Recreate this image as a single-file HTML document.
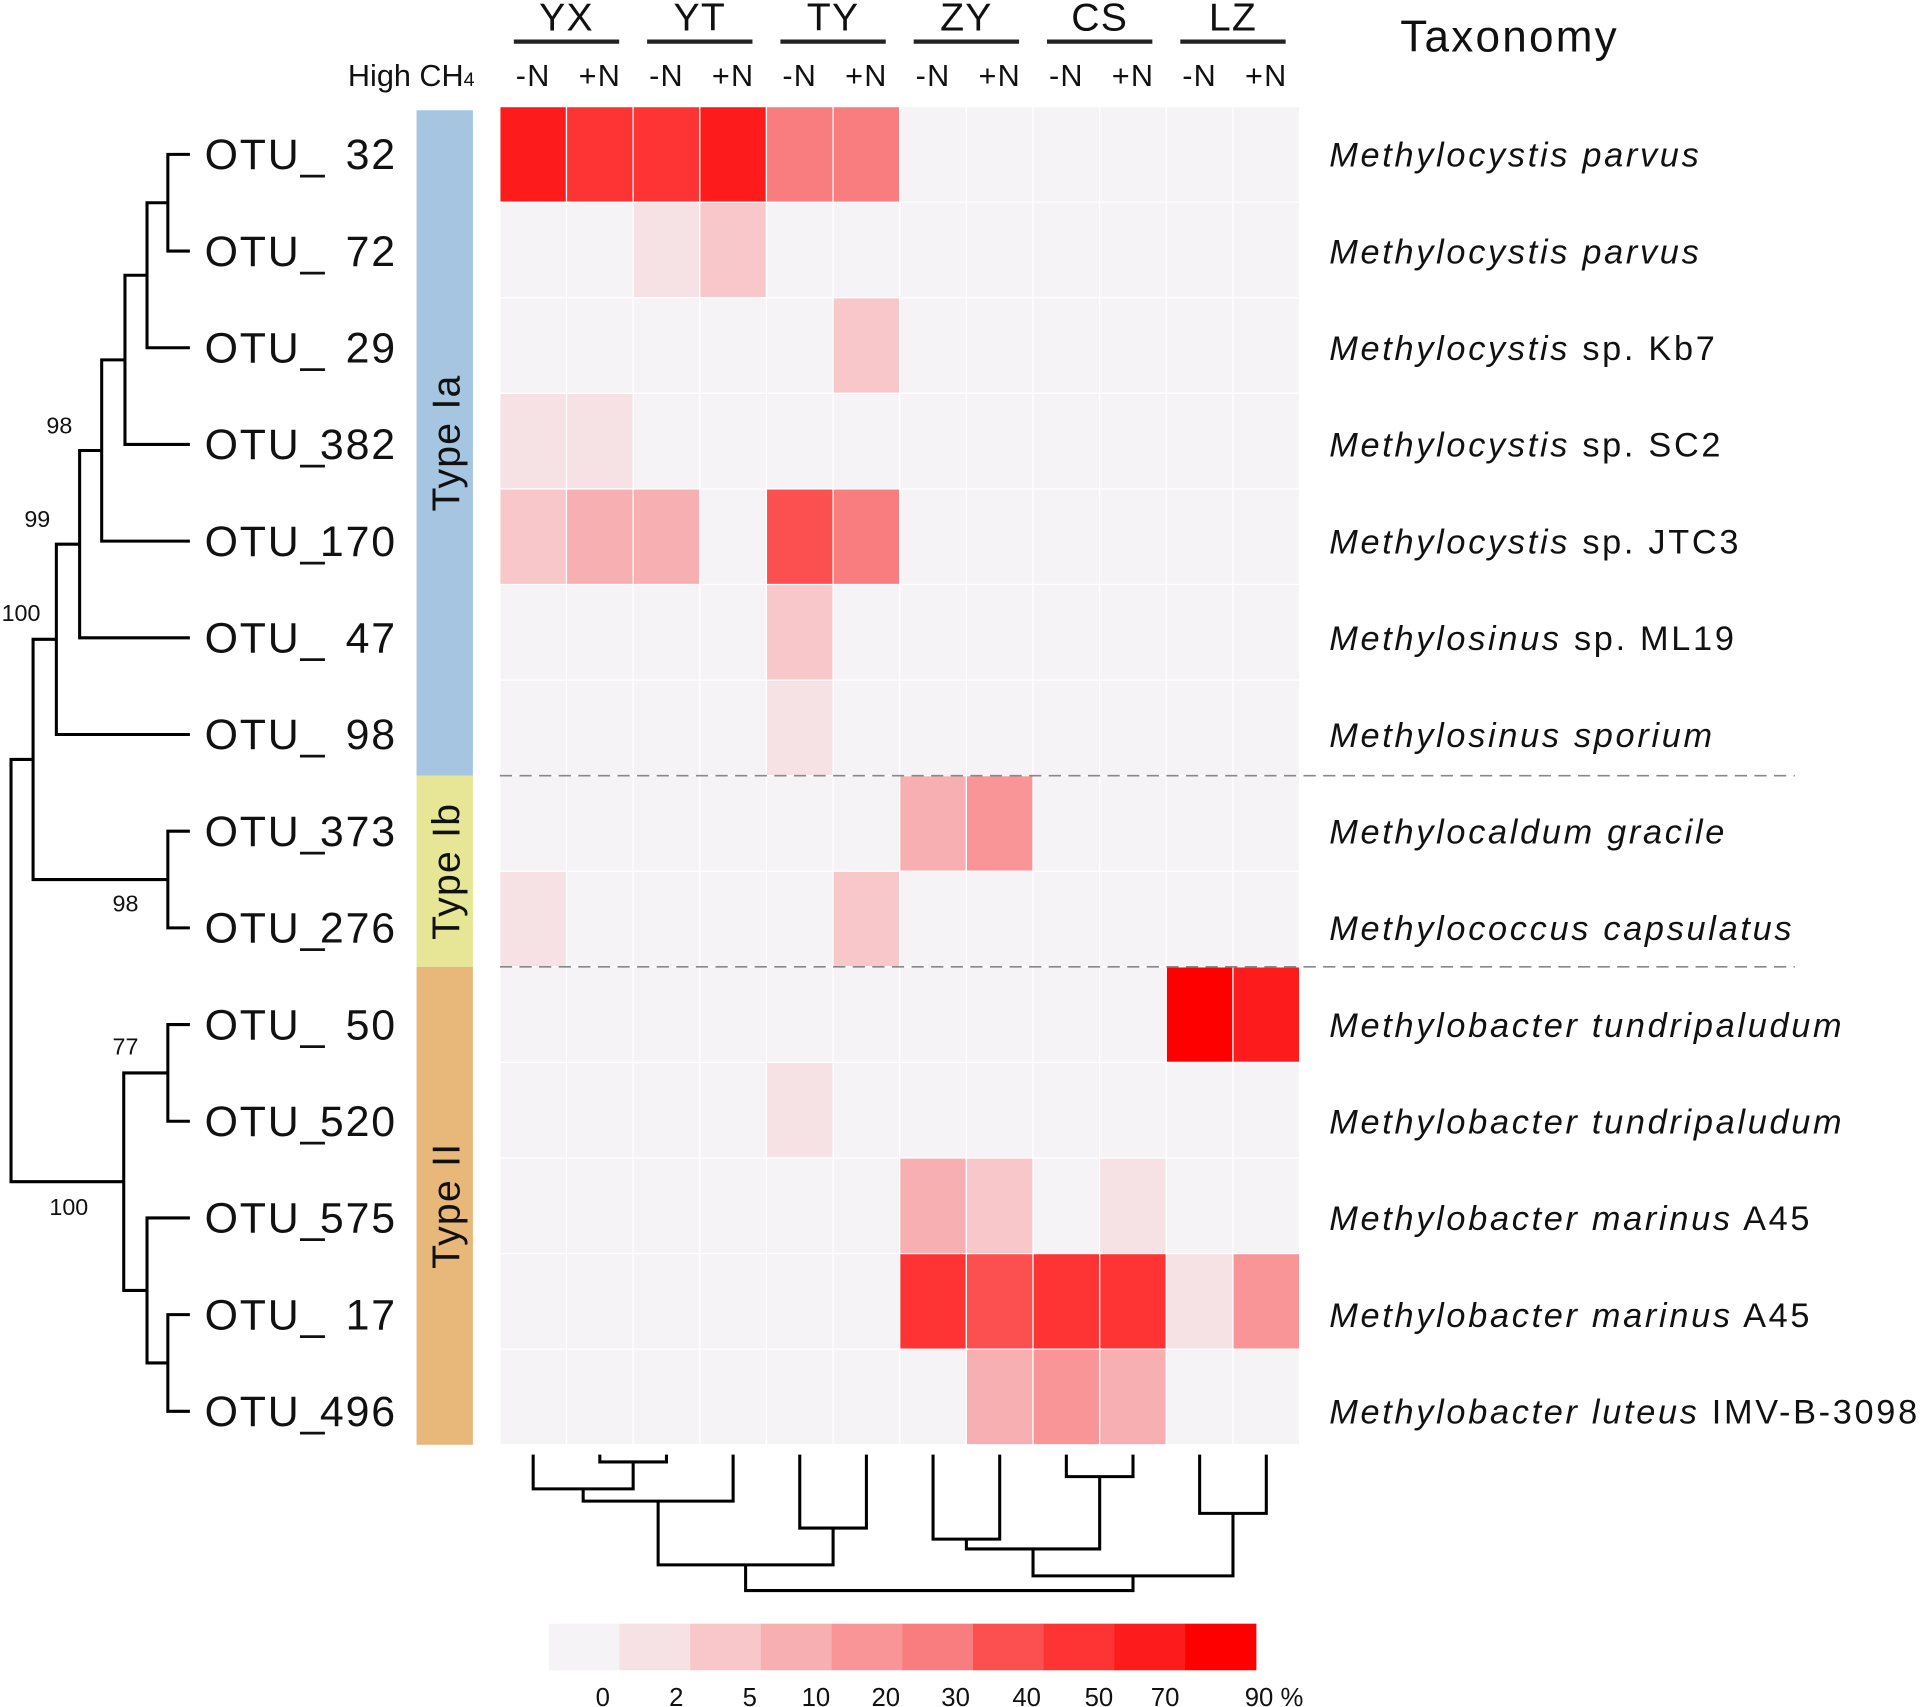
<!DOCTYPE html>
<html><head><meta charset="utf-8"><style>
html,body{margin:0;padding:0;background:#fff;}
svg{display:block;font-family:"Liberation Sans",Arial,sans-serif;}
</style></head><body>
<svg id="chart" xmlns="http://www.w3.org/2000/svg" width="1921" height="1707" viewBox="0 0 1568 1393" preserveAspectRatio="none">
<g id="g-tree" stroke="#000" stroke-width="2.5" fill="none"></g>
<g id="g-groups"></g>
<g id="g-heat"></g>
<g id="g-labels"></g>
<g id="g-head"></g>
<g id="g-ctree" stroke="#000" stroke-width="2.5" fill="none"></g>
<g id="g-legend"></g>
<text x="1143" y="42" font-size="36" letter-spacing="1.8" fill="#111">Taxonomy</text>
</svg>
<script>
const otuNums = ["32","72","29","382","170","47","98","373","276","50","520","575","17","496"];
const taxaItalic = ["Methylocystis parvus","Methylocystis parvus","Methylocystis","Methylocystis","Methylocystis","Methylosinus","Methylosinus sporium","Methylocaldum gracile","Methylococcus capsulatus","Methylobacter tundripaludum","Methylobacter tundripaludum","Methylobacter marinus","Methylobacter marinus","Methylobacter luteus"];
const taxaPlain = ["","","sp. Kb7","sp. SC2","sp. JTC3","sp. ML19","","","","","","A45","A45","IMV-B-3098"];
const sites = ["YX","YT","TY","ZY","CS","LZ"];
const treatments = ["-N","+N"];
const levels = [
 [8,7,7,8,5,5,0,0,0,0,0,0],
 [0,0,1,2,0,0,0,0,0,0,0,0],
 [0,0,0,0,0,2,0,0,0,0,0,0],
 [1,1,0,0,0,0,0,0,0,0,0,0],
 [2,3,3,0,6,5,0,0,0,0,0,0],
 [0,0,0,0,2,0,0,0,0,0,0,0],
 [0,0,0,0,1,0,0,0,0,0,0,0],
 [0,0,0,0,0,0,3,4,0,0,0,0],
 [1,0,0,0,0,2,0,0,0,0,0,0],
 [0,0,0,0,0,0,0,0,0,0,9,8],
 [0,0,0,0,1,0,0,0,0,0,0,0],
 [0,0,0,0,0,0,3,2,0,1,0,0],
 [0,0,0,0,0,0,7,6,7,7,1,4],
 [0,0,0,0,0,0,0,3,4,3,0,0]];
const palette = ["#f5f3f6","#f6e1e4","#f7c7ca","#f8afb2","#f99597","#f97d7f","#fb4f50","#fd3334","#fe1b1c","#ff0000"];
const scaleLabels = ["0","2","5","10","20","30","40","50","70","90 %"];
const groups = [["Type Ia",0,7,"#a5c5e0"],["Type Ib",7,9,"#e6e696"],["Type II",9,14,"#e8b77a"]];
// row tree: [left, right, nodeX, bootstrap, labelDy, labelDx]
const rowTree = [[[[[[[[0,1,137],2,120],3,102],4,83,"98",-14,-24],5,65,"99",-14,-24],6,46,"100",-15,-13],[7,8,137,"98",26,-24],27],[[9,10,137,"77",-15,-24],[11,[12,13,137],120],101,"100",27,-29],9];
// column tree: [left,right,height]
const colTree = [[[[0,[1,2,1193],1215],3,1225],[4,5,1247],1277],[[[6,7,1256],[8,9,1205],1264],[10,11,1235],1286],1298];

const NS="http://www.w3.org/2000/svg";
function mk(tag,attrs,parent,txt){const e=document.createElementNS(NS,tag);for(const k in attrs)e.setAttribute(k,attrs[k]);if(txt!==undefined)e.textContent=txt;parent.appendChild(e);return e;}
const X0=408,CW=54.4,Y0=87,RH=78;
const xCol=i=>X0+i*CW, yRow=i=>Y0+i*RH, yLab=i=>126+i*78.9;
const gH=document.getElementById('g-heat');
levels.forEach((row,r)=>row.forEach((v,c)=>{
 const e=mk('rect',{x:xCol(c),y:yRow(r),width:CW,height:RH,fill:palette[v],stroke:"#fff","stroke-width":1},gH);
 
 
}));
[7,9].forEach(r=>{const l=mk('line',{x1:408,x2:1465,y1:yRow(r),y2:yRow(r),stroke:"#888","stroke-width":1.3,"stroke-dasharray":"10,6"},gH);
 
 });
const gG=document.getElementById('g-groups');
groups.forEach(g=>{const y1=g[1]===0?90:yRow(g[1]),y2=yRow(g[2]);
 const r=mk('rect',{x:340,y:y1,width:46,height:y2-y1,fill:g[3]},gG);
 
 
 const cy=(y1+y2)/2;
 const t=mk('text',{x:0,y:0,transform:`translate(375,${cy}) rotate(-90)`,"text-anchor":"middle","font-size":32,"letter-spacing":1,fill:"#111"},gG,g[0]);
 
 });
const gL=document.getElementById('g-labels');
otuNums.forEach((o,i)=>{
 const t=mk('text',{x:167,y:yLab(i)+12,"font-size":35,"letter-spacing":1.5,fill:"#111"},gL,"OTU_");
 
 
 const n=mk('text',{x:324,y:yLab(i)+12,"font-size":35,"letter-spacing":1.5,"text-anchor":"end",fill:"#111"},gL,o);
 
 
 const tt=mk('text',{x:1085,y:yLab(i)+10,"font-size":28,"letter-spacing":2.2,fill:"#111"},gL);
 
 
 mk('tspan',{"font-style":"italic"},tt,taxaItalic[i]);
 if(taxaPlain[i])mk('tspan',{},tt," "+taxaPlain[i]);});
const gHd=document.getElementById('g-head');
sites.forEach((s,k)=>{const cx=xCol(2*k+1);
 const t=mk('text',{x:cx,y:25,"text-anchor":"middle","font-size":32,"letter-spacing":1,fill:"#111"},gHd,s);
 
 
 mk('line',{x1:cx-43,x2:cx+43,y1:34,y2:34,stroke:"#222","stroke-width":3.5},gHd);
 treatments.forEach((n,j)=>{const tt=mk('text',{x:xCol(2*k+j)+CW/2,y:70,"text-anchor":"middle","font-size":25,"letter-spacing":1,fill:"#111"},gHd,n);
  
  });});
const hc=mk('text',{x:284,y:70,"font-size":25,fill:"#111"},gHd,"High CH");
mk('tspan',{"font-size":16},hc,"4");


const gT=document.getElementById('g-tree');
function drawRow(n){ if(typeof n==='number') return {y:yLab(n),x:155};
 const a=drawRow(n[0]),b=drawRow(n[1]),x=n[2];
 mk('path',{d:`M${a.x},${a.y}H${x}V${b.y}H${b.x}`},gT);
 if(n[3]){const t=mk('text',{x:x+n[5],y:(a.y+b.y)/2+n[4],"text-anchor":"end","font-size":19,fill:"#111",stroke:"none"},gT,n[3]);
  
  }
 return {y:(a.y+b.y)/2,x:x};}
drawRow(rowTree);
const gC=document.getElementById('g-ctree');
function drawCol(n){ if(typeof n==='number') return {x:xCol(n)+CW/2,y:1187};
 const a=drawCol(n[0]),b=drawCol(n[1]),y=n[2];
 mk('path',{d:`M${a.x},${a.y}V${y}H${b.x}V${b.y}`},gC);
 return {x:(a.x+b.x)/2,y:y};}
drawCol(colTree);
const gLg=document.getElementById('g-legend');
const LW=57.7;
palette.forEach((c,i)=>{const r=mk('rect',{x:448+i*LW,y:1325,width:LW+0.5,height:38,fill:c},gLg);
 
 });
const lx=[492,552,612,666,723,780,838,897,951,1016];
scaleLabels.forEach((s,i)=>{const t=mk('text',{x:lx[i],y:1392,"text-anchor":i===9?"start":"middle","font-size":21,fill:"#111"},gLg,s);
 
 });
</script>
</body></html>
